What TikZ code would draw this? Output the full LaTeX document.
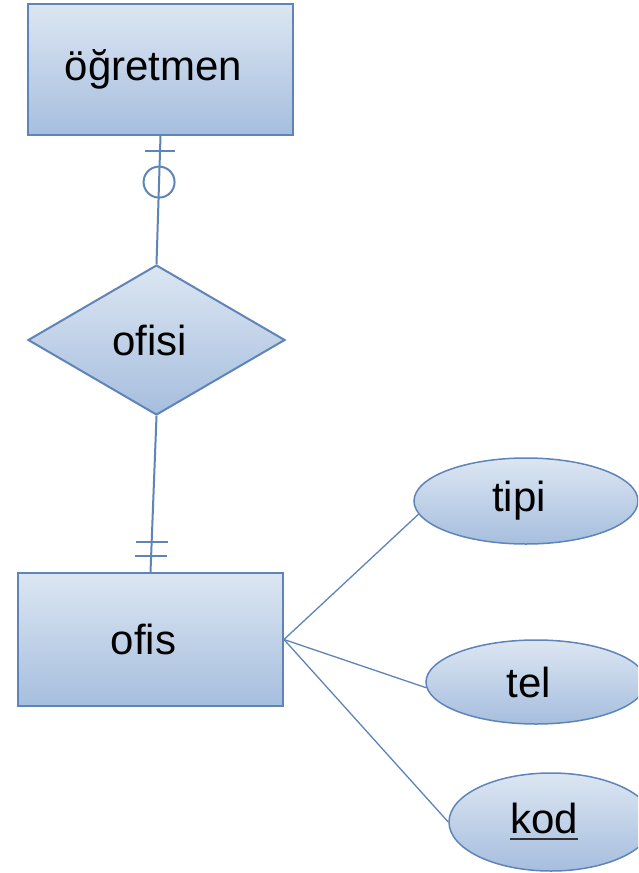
\documentclass[tikz,border=0pt]{standalone}
\usepackage{fontspec}
\setmainfont{Liberation Sans}
\usetikzlibrary{shapes.geometric,calc}
\definecolor{erline}{HTML}{5F84B8}
\definecolor{ertop}{HTML}{DCE6F2}
\definecolor{erbot}{HTML}{A6BEDE}
\definecolor{ulcol}{HTML}{333333}
\tikzset{
  erbase/.style={draw=erline, line width=2pt, top color=ertop, bottom color=erbot,
    font=\fontsize{42}{46}\selectfont, text=black, inner sep=0pt,
    execute at begin node=\hspace*{-14pt}},
  entity/.style={erbase, rectangle},
  relation/.style={erbase, diamond},
  attrib/.style={erbase, ellipse, line width=1.5pt},
  conn/.style={draw=erline, line width=2pt},
  aconn/.style={draw=erline, line width=1.3pt},
}
\newcommand{\keyattr}[1]{\vtop{\hbox{#1}\kern3.5pt{\color{ulcol}\hrule height 2.6pt}}}
\begin{document}
\begin{tikzpicture}[x=1pt,y=-1pt]
\useasboundingbox (0,0) rectangle (638,873);
\clip (0,0) rectangle (638,873);
\fill[white] (0,0) rectangle (638,873);

\node[entity, minimum width=265pt, minimum height=131pt] (og) at (160.5,69.5) {öğretmen};
\node[relation, minimum width=257pt, minimum height=150pt] (ofisi) at (156.5,340) {ofisi};
\node[entity, minimum width=265pt, minimum height=133pt] (ofis) at (150.5,639.5) {ofis};

\node[attrib, minimum width=224pt, minimum height=86pt] (tipi) at (526,501) {tipi};
\node[attrib, minimum width=220pt, minimum height=84pt] (tel) at (536,682) {tel};
\node[attrib, minimum width=204pt, minimum height=98pt] (kod) at (551,822) {\keyattr{kod}};

% relationship connectors
\draw[conn] (og.south) -- (ofisi.north);
\draw[conn] (ofisi.south) -- (ofis.north);

% cardinality marks: one-and-only-one / zero-or-one
\coordinate (m1) at ($(og.south)!0.115!(ofisi.north)$);
\coordinate (m2) at ($(og.south)!0.36!(ofisi.north)$);
\draw[conn] ($(m1)+(-15,0)$) -- ($(m1)+(15,0)$);
\draw[conn] (m2) circle (15.5pt);
\coordinate (m3) at ($(ofisi.south)!0.81!(ofis.north)$);
\coordinate (m4) at ($(ofisi.south)!0.90!(ofis.north)$);
\draw[conn] ($(m3)+(-16,0)$) -- ($(m3)+(16,0)$);
\draw[conn] ($(m4)+(-16,0)$) -- ($(m4)+(16,0)$);

% attribute connectors
\draw[aconn] (ofis.east) -- (tipi.187);
\draw[aconn] (ofis.east) -- (tel.183);
\draw[aconn] (ofis.east) -- (kod.180);
\end{tikzpicture}
\end{document}
